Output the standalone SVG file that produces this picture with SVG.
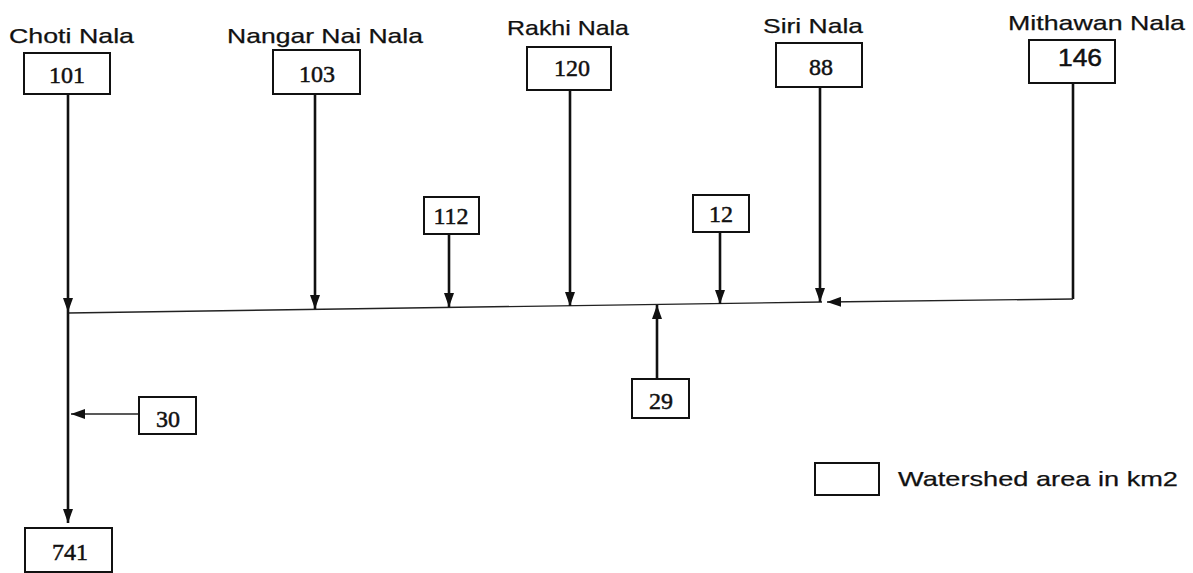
<svg xmlns="http://www.w3.org/2000/svg" width="1193" height="573" viewBox="0 0 1193 573">
<style>
.box{fill:#fff;stroke:#111;stroke-width:2}
.num{font-family:"Liberation Serif","Times New Roman",serif;font-size:24px;fill:#111;stroke:#111;stroke-width:0.5;text-anchor:middle}
.numsans{font-family:"Liberation Sans",Arial,sans-serif;font-size:24px;fill:#111;stroke:#111;stroke-width:0.5}
.lbl{font-family:"Liberation Sans",Arial,sans-serif;font-size:21px;fill:#111;stroke:#111;stroke-width:0.25}
.thick{fill:none;stroke:#111;stroke-width:2.6}
.thin{fill:none;stroke:#222;stroke-width:1.4}
</style>
<defs>
<marker id="ah" viewBox="0 0 14 10" refX="14" refY="5" markerWidth="14" markerHeight="10" markerUnits="userSpaceOnUse" orient="auto">
<path d="M0,0 L14,5 L0,10 z" fill="#111"/>
</marker>
</defs>
<g id="connectors">
<line class="thin" x1="68" y1="313" x2="822" y2="302"/>
<line class="thick" x1="68" y1="94" x2="68" y2="312" marker-end="url(#ah)"/>
<line class="thick" x1="68" y1="312" x2="68" y2="523" marker-end="url(#ah)"/>
<line class="thick" x1="315" y1="94" x2="315" y2="309" marker-end="url(#ah)"/>
<line class="thick" x1="449" y1="234" x2="449" y2="307" marker-end="url(#ah)"/>
<line class="thick" x1="570" y1="90" x2="570" y2="306" marker-end="url(#ah)"/>
<line class="thick" x1="720" y1="232" x2="720" y2="304" marker-end="url(#ah)"/>
<line class="thick" x1="820" y1="87" x2="820" y2="302" marker-end="url(#ah)"/>
<path class="thick" d="M1073,83 L1073,299"/>
<line class="thin" x1="1073" y1="299" x2="827" y2="302" marker-end="url(#ah)"/>
<line class="thick" x1="657" y1="379" x2="657" y2="305" marker-end="url(#ah)"/>
<line class="thin" x1="139" y1="414" x2="71" y2="414" marker-end="url(#ah)"/>
</g>
<g id="choti">
<text class="lbl" x="9" y="43" textLength="125" lengthAdjust="spacingAndGlyphs">Choti Nala</text>
<rect class="box" x="24" y="53" width="86" height="41"/>
<text class="num" x="67" y="83">101</text>
</g>
<g id="nangar">
<text class="lbl" x="227" y="43" textLength="196" lengthAdjust="spacingAndGlyphs">Nangar Nai Nala</text>
<rect class="box" x="273" y="50" width="87" height="44"/>
<text class="num" x="317" y="82">103</text>
</g>
<g id="rakhi">
<text class="lbl" x="507" y="35" textLength="122" lengthAdjust="spacingAndGlyphs">Rakhi Nala</text>
<rect class="box" x="527" y="47" width="84" height="43"/>
<text class="num" x="572" y="76">120</text>
</g>
<g id="siri">
<text class="lbl" x="763" y="33" textLength="100" lengthAdjust="spacingAndGlyphs">Siri Nala</text>
<rect class="box" x="776" y="43" width="86" height="44"/>
<text class="num" x="821" y="75">88</text>
</g>
<g id="mithawan">
<text class="lbl" x="1008" y="30" textLength="177" lengthAdjust="spacingAndGlyphs">Mithawan Nala</text>
<rect class="box" x="1029" y="40" width="86" height="43"/>
<text class="numsans" x="1058" y="66" textLength="44" lengthAdjust="spacingAndGlyphs">146</text>
</g>
<g id="n112">
<rect class="box" x="424" y="197" width="55" height="37"/>
<text class="num" x="451" y="224">112</text>
</g>
<g id="n12">
<rect class="box" x="693" y="195" width="56" height="37"/>
<text class="num" x="721" y="222">12</text>
</g>
<g id="n29">
<rect class="box" x="632" y="379" width="57" height="39"/>
<text class="num" x="661" y="409">29</text>
</g>
<g id="n30">
<rect class="box" x="139" y="397" width="57" height="37"/>
<text class="num" x="168" y="427">30</text>
</g>
<g id="n741">
<rect class="box" x="25" y="528" width="87" height="44"/>
<text class="num" x="70" y="560">741</text>
</g>
<g id="legend">
<rect class="box" x="815" y="463" width="64" height="32"/>
<text class="lbl" x="898" y="486" textLength="280" lengthAdjust="spacingAndGlyphs">Watershed area in km2</text>
</g>
</svg>
